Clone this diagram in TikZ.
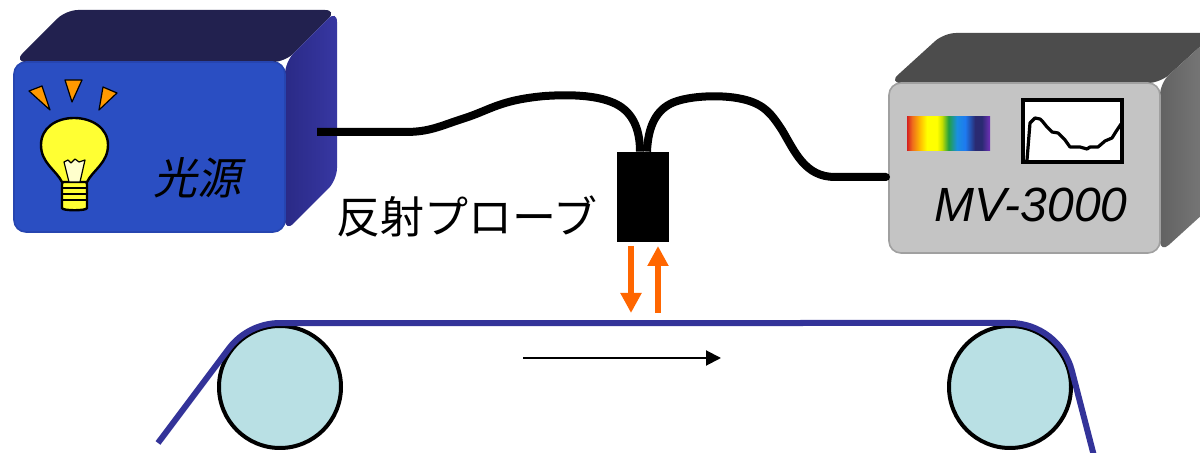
\documentclass[tikz,border=0pt]{standalone}
\usepackage{fontspec}
\setmainfont{Liberation Sans}
\newfontfamily\jpfont{Noto Sans CJK JP}
\newfontfamily\jpslant[FakeSlant=0.2]{Noto Sans CJK JP}
\usetikzlibrary{arrows.meta}

\definecolor{srcfront}{HTML}{2A4EC2}
\definecolor{srcedge}{HTML}{2645B0}
\definecolor{srctop}{HTML}{22214F}
\definecolor{srcside}{HTML}{2A2A86}
\definecolor{srcsidelt}{HTML}{3737A2}
\definecolor{anafront}{HTML}{C4C4C4}
\definecolor{anaedge}{HTML}{A0A0A0}
\definecolor{anatop}{HTML}{4C4C4C}
\definecolor{anaside}{HTML}{626262}
\definecolor{anasidelt}{HTML}{7C7C7C}
\definecolor{beam}{HTML}{FF6600}
\definecolor{belt}{HTML}{333399}
\definecolor{roller}{HTML}{B9E0E4}
\definecolor{bulb}{HTML}{FFFF33}
\definecolor{filament}{HTML}{FFFFCC}
\definecolor{ray}{HTML}{FF9900}
\definecolor{spA}{HTML}{D42020}
\definecolor{spB}{HTML}{EE6A1C}
\definecolor{spC}{HTML}{FFC000}
\definecolor{spD}{HTML}{FFFF00}
\definecolor{spE}{HTML}{C8E000}
\definecolor{spF}{HTML}{22A040}
\definecolor{spG}{HTML}{1A8FE0}
\definecolor{spH}{HTML}{1E7AF0}
\definecolor{spI}{HTML}{2A2A72}
\definecolor{spJ}{HTML}{7030B8}

% visible spectrum strip; the path covers the 25bp..75bp part
\pgfdeclarehorizontalshading{spectrum}{100bp}{%
  color(0bp)=(spA); color(25bp)=(spA); color(28bp)=(spB);
  color(33bp)=(spC); color(37bp)=(spD); color(43bp)=(spD);
  color(46bp)=(spE); color(50bp)=(spF); color(55bp)=(spG);
  color(60bp)=(spH); color(66bp)=(spI); color(70bp)=(spI);
  color(75bp)=(spJ); color(100bp)=(spJ)}

\begin{document}
\begin{tikzpicture}[x=0.5pt,y=-0.5pt,
  srcface/.style={draw=srcedge, line width=0.8pt, fill=srcfront,
    rounded corners=6pt, minimum width=135.5pt, minimum height=85pt, inner sep=0pt},
  anaface/.style={draw=anaedge, line width=0.8pt, fill=anafront,
    rounded corners=6pt, minimum width=135.5pt, minimum height=85pt, inner sep=0pt},
  probebox/.style={fill=black, minimum width=26pt, minimum height=45pt, inner sep=0pt},
  rollerc/.style={circle, draw=black, line width=2pt, fill=roller,
    minimum size=61pt, inner sep=0pt},
  cable/.style={line width=4pt, black},
  beltline/.style={line width=3pt, belt, line join=round},
  beamarrow/.style={line width=3pt, beam, -{Triangle[length=10pt,width=10pt]}},
  movearrow/.style={line width=1pt, black, -{Triangle[length=7.5pt,width=7.5pt]}},
  raytri/.style={fill=ray, draw=black, line width=0.6pt, line join=round},
  jplabel/.style={font=\jpfont\fontsize{22}{22}\selectfont, inner sep=0pt},
  jpslantlabel/.style={font=\jpslant\fontsize{22}{22}\selectfont, inner sep=0pt},
  modellabel/.style={font=\itshape\fontsize{24}{24}\selectfont, inner sep=0pt}]

\useasboundingbox (0,0) rectangle (1200,453);
\fill[white] (0,0) rectangle (1200,453);

% ---------- light source housing ----------
\fill[srctop, rounded corners=6pt] (14,62) -- (66,10) -- (337,10) -- (285,62) -- cycle;
\shade[left color=srcside, right color=srcsidelt, rounded corners=6pt]
  (285,62) -- (337,10) -- (337,180) -- (285,232) -- cycle;
\node[srcface] (src) at (149.5,147) {};

% light bulb with rays
\filldraw[raytri] (29,91) -- (42,86) -- (50,110) -- cycle;
\filldraw[raytri] (65,80) -- (82,80) -- (72,102) -- cycle;
\filldraw[raytri] (103,87) -- (117,93) -- (99,110) -- cycle;
\filldraw[fill=bulb, draw=black, line width=1.2pt, rounded corners=2pt]
  (62,180) -- (62,204) .. controls (62,211) and (87,211) .. (87,204) -- (87,180) -- cycle;
\draw[black, line width=0.9pt] (62,188) -- (87,188) (62,194) -- (87,194) (62,200) -- (87,200);
\filldraw[fill=bulb, draw=black, line width=1.2pt]
  (62,182) .. controls (56,170) and (41,163) .. (41,145)
  .. controls (41,128) and (56,118) .. (74,118)
  .. controls (92,118) and (108,128) .. (108,145)
  .. controls (108,163) and (93,170) .. (87,182) -- cycle;
\filldraw[fill=filament, draw=black, line width=0.6pt, line join=round]
  (64,162) -- (68,160) -- (71,163) -- (75,159) -- (79,162) -- (85,160)
  -- (80,182) -- (69,182) -- cycle;

\node[jpslantlabel] (srclabel) at (197,178) {光源};

% ---------- spectrometer housing ----------
\fill[anatop, rounded corners=6pt] (889,83) -- (944,33) -- (1215,33) -- (1160,83) -- cycle;
\shade[left color=anaside, right color=anasidelt, rounded corners=6pt]
  (1160,83) -- (1215,33) -- (1215,203) -- (1160,253) -- cycle;
\node[anaface] (ana) at (1024.5,168) {};

\shade[shading=spectrum] (907,117) rectangle (990,151);
\draw[fill=white, line width=2pt] (1023,100) rectangle (1122,162);
\draw[line width=1.6pt, line join=round, line cap=round]
  (1027,160) -- (1030,123) -- (1035,118) -- (1040,119) -- (1043,122)
  -- (1047,127) -- (1052,132) -- (1058,133) -- (1065,140) -- (1070,147)
  -- (1080,147) -- (1087,149) -- (1090,147) -- (1098,147) -- (1105,141)
  -- (1112,138) -- (1117,130) -- (1121,124);

\node[modellabel] (analabel) at (1031,205) {MV-3000};

% ---------- reflection probe ----------
\node[probebox] (probe) at (643,197) {};
\node[jplabel] (probelabel) at (467,216) {反射プローブ};

\coordinate (srcport) at (317,132);
\coordinate (anaport) at (886,177);
\coordinate (probeL) at ([xshift=-1.5pt]probe.north);
\coordinate (probeR) at ([xshift=2pt]probe.north);

% fibre bundle: one branch to the lamp, one to the spectrometer
\draw[cable] (srcport) -- (405,132)
  .. controls (430,132) and (440,126) .. (465,118)
  .. controls (490,110) and (500,100) .. (545,96)
  .. controls (575,94) and (600,96) .. (616,104)
  .. controls (632,112) and (640,128) .. (probeL);
\draw[cable] (probeR) .. controls (648,128) and (655,112) .. (670,104)
  .. controls (685,96) and (720,94) .. (742,99)
  .. controls (765,104) and (772,115) .. (782,130)
  .. controls (795,152) and (805,177) .. (835,177)
  -- (anaport);
\fill (anaport) circle[radius=4];

% illumination and reflected light
\coordinate (dnA) at (631,246);
\coordinate (dnB) at (631,313);
\coordinate (upA) at (658,313);
\coordinate (upB) at (658,246);
\draw[beamarrow] (dnA) -- (dnB);
\draw[beamarrow] (upA) -- (upB);

% ---------- conveyor ----------
\node[rollerc] (rl) at (280,387) {};
\node[rollerc] (rr) at (1010,387) {};
\draw[beltline] (158,443) -- (228.9,348.5)
  arc[start angle=-143, end angle=-90, radius=64] -- (1010,323)
  arc[start angle=-90, end angle=-14.8, radius=64] -- (1094,456);

\coordinate (mvA) at (523,358);
\coordinate (mvB) at (721,358);
\draw[movearrow] (mvA) -- (mvB);

\end{tikzpicture}
\end{document}
